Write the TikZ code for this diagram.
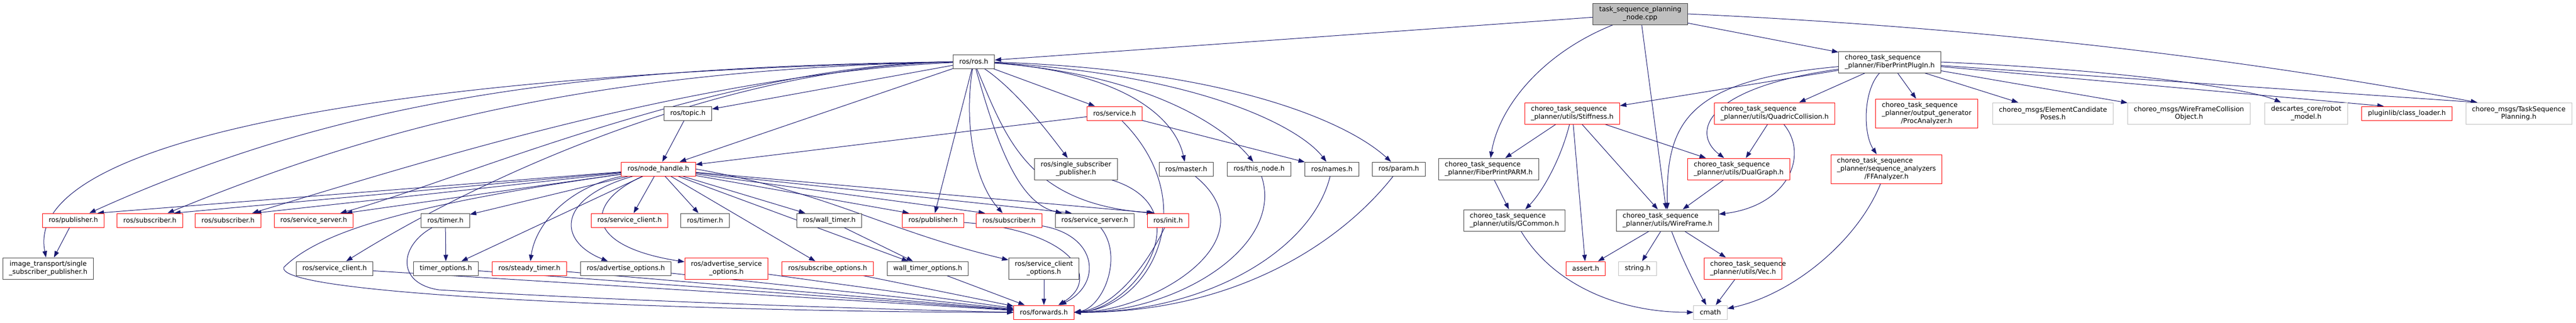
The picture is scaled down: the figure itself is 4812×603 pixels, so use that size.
\documentclass[tikz,border=0pt]{standalone}
\usepackage{fontspec}
\setmainfont{DejaVu Sans}
\usepackage{calc}
\usetikzlibrary{arrows.meta}
\definecolor{edgeblue}{HTML}{191970}
\definecolor{grey75}{HTML}{BFBFBF}
\definecolor{grey25}{HTML}{404040}
\newcommand\ctsp[1]{\makebox[\widthof{#1}][l]{choreo\_task\_sequence}\\#1}
\pgfdeclarelayer{edges}
\pgfsetlayers{edges,main}
\begin{document}
\begin{tikzpicture}[x=1pt, y=-1pt,
  hfile/.style={draw=grey25, line width=1pt, fill=white, inner xsep=11.5pt, inner ysep=0pt,
    minimum height=26pt, align=center, font=\fontsize{12.5}{14.6}\selectfont},
  trunc/.style={hfile, draw=red},
  ext/.style={hfile, draw=grey75},
  twoline/.style={minimum height=40pt},
  threeline/.style={minimum height=54pt},
  dep/.style={draw=edgeblue, line width=1pt, -{Triangle[length=12pt, width=8.5pt]}}]
\useasboundingbox (0,0) rectangle (4812,603);

% ノード 1段目
\node[hfile, fill=grey75, twoline] (main) at (3064,26) {task\_sequence\_planning\\\_node.cpp};
% 2段目
\node[hfile]          (ros)    at (1819,115) {ros/ros.h};
\node[hfile, twoline] (plugin) at (3530,116) {\ctsp{\_planner/FiberPrintPlugIn.h}};
% 3段目
\node[hfile]            (topic)       at (1285,212) {ros/topic.h};
\node[trunc]            (service)     at (2082,212) {ros/service.h};
\node[trunc, twoline]   (stiff)       at (2937,212) {\ctsp{\_planner/utils/Stiffness.h}};
\node[trunc, twoline]   (quadric)     at (3315,212) {\ctsp{\_planner/utils/QuadricCollision.h}};
\node[trunc, threeline] (procana)     at (3599,212) {\ctsp{\_planner/output\_generator}\\/ProcAnalyzer.h};
\node[ext, twoline]     (elemcand)    at (3835,212) {choreo\_msgs/ElementCandidate\\Poses.h};
\node[ext, twoline]     (wfcoll)      at (4089,212) {choreo\_msgs/WireFrameCollision\\Object.h};
\node[ext, twoline]     (robotmodel)  at (4308,212) {descartes\_core/robot\\\_model.h};
\node[trunc]            (classloader) at (4496,212) {pluginlib/class\_loader.h};
\node[ext, twoline]     (tsp)         at (4705,212) {choreo\_msgs/TaskSequence\\Planning.h};
% 4段目
\node[trunc]            (nh)       at (1230,316) {ros/node\_handle.h};
\node[hfile, twoline]   (ssp)      at (2010,316) {ros/single\_subscriber\\\_publisher.h};
\node[hfile]            (master)   at (2216,316) {ros/master.h};
\node[hfile]            (thisnode) at (2352,316) {ros/this\_node.h};
\node[hfile]            (names)    at (2488,316) {ros/names.h};
\node[hfile]            (param)    at (2613,316) {ros/param.h};
\node[hfile, twoline]   (parm)     at (2781,316) {\ctsp{\_planner/FiberPrintPARM.h}};
\node[trunc, twoline]   (dual)     at (3248,316) {\ctsp{\_planner/utils/DualGraph.h}};
\node[trunc, threeline] (ffana)    at (3524,316) {\ctsp{\_planner/sequence\_analyzers}\\/FFAnalyzer.h};
% 5段目
\node[trunc]          (pubA)      at (137,412)  {ros/publisher.h};
\node[trunc]          (subA)      at (280,412)  {ros/subscriber.h};
\node[trunc]          (subB)      at (426,412)  {ros/subscriber.h};
\node[trunc]          (srvA)      at (586,412)  {ros/service\_server.h};
\node[hfile]          (timerA)    at (832,412)  {ros/timer.h};
\node[trunc]          (clientA)   at (1176,412) {ros/service\_client.h};
\node[hfile]          (timerB)    at (1317,412) {ros/timer.h};
\node[hfile]          (walltimer) at (1549,412) {ros/wall\_timer.h};
\node[trunc]          (pubB)      at (1743,412) {ros/publisher.h};
\node[trunc]          (subC)      at (1885,412) {ros/subscriber.h};
\node[hfile]          (srvB)      at (2045,412) {ros/service\_server.h};
\node[trunc]          (init)      at (2182,412) {ros/init.h};
\node[hfile, twoline] (gcommon)   at (2829,412) {\ctsp{\_planner/utils/GCommon.h}};
\node[hfile, twoline] (wireframe) at (3115,412) {\ctsp{\_planner/utils/WireFrame.h}};
% 6段目
\node[hfile, twoline] (itssp)        at (90,502)   {image\_transport/single\\\_subscriber\_publisher.h};
\node[hfile]          (clientB)      at (625,502)  {ros/service\_client.h};
\node[hfile]          (timeropt)     at (833,502)  {timer\_options.h};
\node[trunc]          (steady)       at (989,502)  {ros/steady\_timer.h};
\node[hfile]          (advopt)       at (1169,502) {ros/advertise\_options.h};
\node[trunc, twoline] (advsrvopt)    at (1357,502) {ros/advertise\_service\\\_options.h};
\node[trunc]          (subopt)       at (1546,502) {ros/subscribe\_options.h};
\node[hfile]          (walltimeropt) at (1733,502) {wall\_timer\_options.h};
\node[hfile, twoline] (clientopt)    at (1950,502) {ros/service\_client\\\_options.h};
\node[trunc]          (assert)       at (2962,502) {assert.h};
\node[ext]            (string)       at (3059,502) {string.h};
\node[trunc, twoline] (vec)          at (3256,502) {\ctsp{\_planner/utils/Vec.h}};
% 7段目
\node[trunc] (forwards) at (1950,584) {ros/forwards.h};
\node[ext]   (cmath)    at (3195,584) {cmath};

\begin{pgfonlayer}{edges}
% 矢印 task_sequence_planning_node.cpp から
\draw[dep] (main) -- (ros);
\draw[dep] (main) .. controls (2880,100) and (2800,200) .. (parm);
\draw[dep] (main) -- (wireframe);
\draw[dep] (main) -- (plugin);
\draw[dep] (main.east) .. controls (3900,60) and (4400,150) .. ([xshift=22pt]tsp.north west);

% FiberPrintPlugIn.h から
\draw[dep] (plugin) -- (stiff);
\draw[dep] (plugin) .. controls (3150,150) and (3112,230) .. (wireframe);
\draw[dep] (plugin) .. controls (3180,165) and (3160,250) .. (dual);
\draw[dep] (plugin) -- (quadric);
\draw[dep] (plugin) .. controls (3480,170) and (3480,250) .. (ffana);
\draw[dep] (plugin) -- (procana);
\draw[dep] (plugin) -- (elemcand);
\draw[dep] (plugin) -- (wfcoll);
\draw[dep] (plugin.east) .. controls (3950,130) and (4200,165) .. (robotmodel);
\draw[dep] (plugin) -- ([xshift=-43pt]classloader.north);
\draw[dep] (plugin) -- ([xshift=22pt]tsp.north west);

% utils の中
\draw[dep] (stiff) -- (parm);
\draw[dep] (stiff) .. controls (2915,300) and (2880,360) .. (gcommon);
\draw[dep] (stiff) -- (assert);
\draw[dep] (stiff) -- (wireframe);
\draw[dep] (stiff) -- (dual);
\draw[dep] (parm) -- (gcommon);
\draw[dep] (gcommon) .. controls (2900,530) and (3020,584) .. (cmath);
\draw[dep] (quadric) -- (dual);
\draw[dep] (quadric) .. controls (3380,290) and (3340,385) .. (wireframe);
\draw[dep] (dual) -- (wireframe);
\draw[dep] (wireframe) -- (assert);
\draw[dep] (wireframe) -- (string);
\draw[dep] (wireframe) .. controls (3140,480) and (3170,540) .. (cmath);
\draw[dep] (wireframe) -- (vec);
\draw[dep] (vec) -- (cmath);
\draw[dep] (ffana) .. controls (3470,450) and (3350,550) .. (cmath);

% ros/ros.h から
\draw[dep] (ros) -- (topic);
\draw[dep] (ros) -- (nh);
\draw[dep] (topic) -- (nh);
\draw[dep] (service) -- (nh);
\draw[dep] (ros) -- (service);
\draw[dep] (ros) .. controls (1900,170) and (1960,250) .. (ssp);
\draw[dep] (ros) .. controls (2100,135) and (2195,220) .. (master);
\draw[dep] (ros) .. controls (2150,140) and (2290,240) .. (thisnode);
\draw[dep] (ros) .. controls (2250,140) and (2430,240) .. (names);
\draw[dep] (ros) .. controls (2300,130) and (2520,230) .. (param);
\draw[dep] (service) -- (names);
\draw[dep] (ros) -- (pubB);
\draw[dep] (ros) .. controls (1800,230) and (1820,340) .. (subC);
\draw[dep] (ros) .. controls (1860,260) and (1900,380) .. (srvB);
\draw[dep] (ros) .. controls (1880,260) and (1920,380) .. ([xshift=-28pt]init.north);
\draw[dep] (ros) .. controls (800,135) and (40,250) .. (itssp);
\draw[dep] (ros) .. controls (1100,125) and (650,180) .. (pubA);
\draw[dep] (ros) .. controls (1100,130) and (700,240) .. (subA);
\draw[dep] (ros) .. controls (1300,140) and (800,300) .. (subB);
\draw[dep] (ros) .. controls (1350,120) and (850,340) .. (srvA);
\draw[dep] (ros) .. controls (1350,125) and (900,330) .. (clientB);
\draw[dep] (pubA) -- (itssp);

% ros/node_handle.h から
\draw[dep] (nh) -- ([xshift=45pt]pubA.north);
\draw[dep] (nh) -- ([xshift=45pt]subA.north);
\draw[dep] (nh) -- ([xshift=50pt]subB.north);
\draw[dep] (nh) -- ([xshift=60pt]srvA.north);
\draw[dep] (nh) -- (timerA);
\draw[dep] (nh) -- (clientA);
\draw[dep] (nh) -- (timerB);
\draw[dep] (nh) -- (walltimer);
\draw[dep] (nh) -- (subopt);
\draw[dep] (nh) .. controls (1090,380) and (1090,460) .. (advsrvopt);
\draw[dep] (nh) .. controls (1040,370) and (1040,450) .. (advopt);
\draw[dep] (nh) .. controls (1060,350) and (1000,420) .. (steady);
\draw[dep] (nh) -- (timeropt);
\draw[dep] (nh) -- (walltimeropt);
\draw[dep] (nh.east) .. controls (1550,360) and (1650,430) .. (clientopt);
\draw[dep] (nh) -- ([xshift=-45pt]pubB.north);
\draw[dep] (nh) -- ([xshift=-45pt]subC.north);
\draw[dep] (nh) -- ([xshift=-43pt]srvB.north);
\draw[dep] (nh) -- ([xshift=-25pt]init.north);
\draw[dep] (nh) .. controls (780,380) and (600,430) .. (530,500)
  .. controls (515,560) and (1500,585) .. (forwards.west);
\draw[dep] (walltimer) -- (walltimeropt);
\draw[dep] (timerA) -- (timeropt);

% ros/forwards.h へ(左から)
\draw[dep] (timerA) .. controls (745,460) and (740,530) .. (820,542)
  .. controls (1200,565) and (1700,580) .. (forwards.west);
\draw[dep] (clientB) -- (forwards);
\draw[dep] (timeropt) -- (forwards);
\draw[dep] (steady) -- (forwards);
\draw[dep] (advopt) -- (forwards);
\draw[dep] (advsrvopt) -- (forwards);
\draw[dep] (subopt) -- (forwards);
\draw[dep] (walltimeropt) -- (forwards);
\draw[dep] (clientopt) -- (forwards);

% ros/forwards.h へ(右から)
\draw[dep] (service) .. controls (2250,380) and (2150,575) .. (forwards.east);
\draw[dep] (ssp) .. controls (2250,390) and (2120,578) .. (forwards.east);
\draw[dep] (master) .. controls (2380,450) and (2150,582) .. (forwards.east);
\draw[dep] (thisnode) .. controls (2400,460) and (2200,584) .. (forwards.east);
\draw[dep] (names) .. controls (2450,470) and (2250,585) .. (forwards.east);
\draw[dep] (param) .. controls (2500,460) and (2300,585) .. (forwards.east);
\draw[dep] (init) .. controls (2140,500) and (2080,575) .. (forwards.east);
\draw[dep] (srvB) .. controls (2100,480) and (2060,575) .. (forwards.east);
\draw[dep] (pubB) .. controls (2000,430) and (2060,520) .. ([xshift=27pt]forwards.north);
\draw[dep] (subC) .. controls (2050,440) and (2060,530) .. ([xshift=30pt]forwards.north);
\end{pgfonlayer}
\end{tikzpicture}
\end{document}
